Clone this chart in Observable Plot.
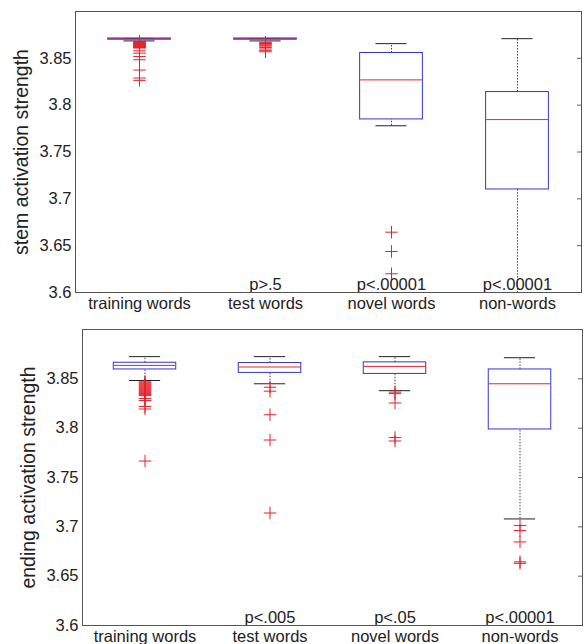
<!DOCTYPE html>
<html><head><meta charset="utf-8">
<script src="https://cdn.jsdelivr.net/npm/d3@7"></script>
<script src="https://cdn.jsdelivr.net/npm/@observablehq/plot@0.6"></script>
<style>
body{margin:0;background:#fff;}
#wrap{position:relative;width:584px;height:644px;overflow:hidden;}
#top{position:absolute;left:0;top:0;}
#bottom{position:absolute;left:0;top:314px;}
</style></head><body>
<div id="wrap"><div id="top"></div><div id="bottom"></div></div>
<script>
const categories = ["training words", "test words", "novel words", "non-words"];
const yTicks = [3.6, 3.65, 3.7, 3.75, 3.8, 3.85];
const yTickLabels = ["3.6", "3.65", "3.7", "3.75", "3.8", "3.85"];

// stem activation strength panel
const stemLow = [3.8686, 3.8686, 3.778, 3.50];
const stemQ1 = [3.8700, 3.8700, 3.7848, 3.710];
const stemMedian = [3.8706, 3.8706, 3.827, 3.7846];
const stemQ3 = [3.8712, 3.8712, 3.8557, 3.814];
const stemHigh = [3.8712, 3.8712, 3.8657, 3.871];
const stemOutliers = [
  [3.8680, 3.8675, 3.8670, 3.8665, 3.8660, 3.8655, 3.8650, 3.8645, 3.8640, 3.8635, 3.8630, 3.8625, 3.8620, 3.8615, 3.8610, 3.8580, 3.8555, 3.8520, 3.8485, 3.8375, 3.8290, 3.8265],
  [3.8672, 3.8665, 3.8658, 3.8650, 3.8640, 3.8630, 3.8615, 3.8600, 3.8585, 3.8570],
  [3.6644, 3.6438, 3.6200],
  []
];
const stemP = ["", "p>.5", "p<.00001", "p<.00001"];
const stemTitle = "stem activation strength";

// ending activation strength panel
const endLow = [3.8483, 3.8450, 3.8380, 3.7080];
const endQ1 = [3.8595, 3.8560, 3.8550, 3.7987];
const endMedian = [3.8636, 3.8620, 3.8626, 3.8450];
const endQ3 = [3.8663, 3.8660, 3.8667, 3.8595];
const endHigh = [3.8725, 3.8725, 3.8725, 3.8714];
const endOutliers = [
  [3.847, 3.846, 3.845, 3.844, 3.843, 3.842, 3.841, 3.840, 3.839, 3.838, 3.837, 3.836, 3.835, 3.834, 3.833, 3.830, 3.828, 3.822, 3.8194, 3.7667],
  [3.8415, 3.8375, 3.8136, 3.788, 3.714],
  [3.8365, 3.835, 3.8255, 3.7905, 3.787],
  [3.7013, 3.6962, 3.6847, 3.6645, 3.6630]
];
const endP = ["", "p<.005", "p<.05", "p<.00001"];
const endTitle = "ending activation strength";

const boxBlue = "#3434d4";
const medRed = "#e8242a";
const outRed = "#e4202a";

function panel({low, q1, med, q3, high, outliers, pLabels, title, height, mt, mb, ml, mr}) {
  const width = 584;
  const rows = categories.map((c, i) => ({cat: c, low: low[i], q1: q1[i], med: med[i], q3: q3[i], high: high[i], p: pLabels[i]}));
  const outRows = categories.flatMap((c, i) => outliers[i].map(v => ({cat: c, v})));
  const innerW = width - ml - mr;
  const bw = innerW / categories.length;
  return Plot.plot({
    width, height,
    marginTop: mt, marginBottom: mb, marginLeft: ml, marginRight: mr,
    style: {fontFamily: "'Liberation Sans', Arial, sans-serif", fontSize: "16.5px", color: "#222", background: "#fff"},
    x: {type: "band", domain: categories, padding: 0, label: null},
    y: {domain: [3.6, 3.9], label: null},
    marks: [
      Plot.axisX({tickSize: 0, tickPadding: 5, fontSize: 16.5, label: null}),
      Plot.axisY({ticks: yTicks, tickSize: 0, tickPadding: 4, fontSize: 16.5, label: null,
        tickFormat: d => yTickLabels[yTicks.indexOf(d)]}),
      Plot.tickY(yTicks, {y: d => d, insetLeft: innerW - 4, stroke: "#666"}),
      Plot.ruleX(rows, {x: "cat", y1: "q3", y2: "high", stroke: "#444", strokeDasharray: "1.5,1.5", clip: true}),
      Plot.ruleX(rows, {x: "cat", y1: "low", y2: "q1", stroke: "#444", strokeDasharray: "1.5,1.5", clip: true}),
      Plot.tickY(rows, {x: "cat", y: "high", stroke: "#222", insetLeft: bw * 3 / 8, insetRight: bw * 3 / 8, clip: true}),
      Plot.tickY(rows, {x: "cat", y: "low", stroke: "#222", insetLeft: bw * 3 / 8, insetRight: bw * 3 / 8, clip: true}),
      Plot.barY(rows, {x: "cat", y1: "q1", y2: "q3", fill: "none", stroke: boxBlue, insetLeft: bw / 4, insetRight: bw / 4, clip: true}),
      Plot.tickY(rows, {x: "cat", y: "med", stroke: medRed, insetLeft: bw / 4 + 0.5, insetRight: bw / 4 + 0.5, clip: true}),
      Plot.dot(outRows, {x: "cat", y: "v", symbol: "plus", r: 4.1, stroke: outRed, strokeWidth: 1, clip: true}),
      Plot.text(rows, {x: "cat", y: () => 3.6, text: "p", dy: -3, lineAnchor: "bottom", fontSize: 16.5, fill: "#222"}),
      Plot.text([title], {frameAnchor: "left", textAnchor: "middle", rotate: -90, dx: -54, fontSize: 19.5, fill: "#222"}),
      Plot.frame({stroke: "#555"})
    ]
  });
}

document.getElementById("top").append(panel({
  low: stemLow, q1: stemQ1, med: stemMedian, q3: stemQ3, high: stemHigh, outliers: stemOutliers,
  pLabels: stemP, title: stemTitle, height: 314, mt: 11, mb: 22, ml: 75, mr: 3
}));
document.getElementById("bottom").append(panel({
  low: endLow, q1: endQ1, med: endMedian, q3: endQ3, high: endHigh, outliers: endOutliers,
  pLabels: endP, title: endTitle, height: 330, mt: 15, mb: 19, ml: 82, mr: 2
}));
</script>
</body></html>
